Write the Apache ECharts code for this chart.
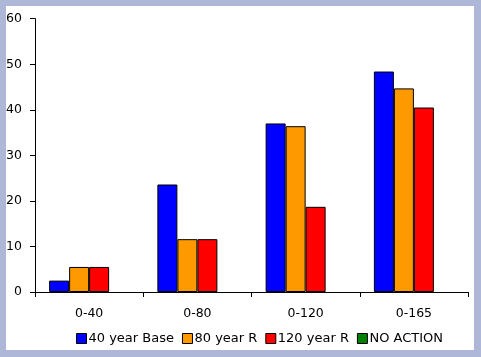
<!DOCTYPE html>
<html><head><meta charset="utf-8">
<script src="https://cdn.jsdelivr.net/npm/echarts@6/dist/echarts.min.js"></script>
<style>html,body{margin:0;padding:0;background:#AEB7D8;}#c{width:481px;height:357px;}</style>
</head><body><div id="c"></div>
<script>
var categories = ['0-40', '0-80', '0-120', '0-165'];
var base40 = [2.5, 23.6, 37.0, 48.4];
var r80 = [5.5, 11.6, 36.4, 44.7];
var r120 = [5.5, 11.6, 18.7, 40.5];
var noAction = [null, null, null, null];
var seriesNames = ['40 year Base', '80 year R', '120 year R', 'NO ACTION'];
var colors = ['#0000FF', '#FF9900', '#FF0000', '#008000'];
var yTicks = [0, 10, 20, 30, 40, 50, 60];

var chart = echarts.init(document.getElementById('c'), null, {renderer: 'canvas'});
var font = 'DejaVu Sans, sans-serif';
var datas = [base40, r80, r120, noAction];
chart.setOption({
  animation: false,
  backgroundColor: '#AEB7D8',
  graphic: [{type: 'rect', shape: {x: 6, y: 6, width: 468, height: 344}, style: {fill: '#FFFFFF'}, z: -10, silent: true}],
  grid: {left: 35, right: 13, top: 18.7, bottom: 65, containLabel: false},
  legend: {
    data: seriesNames, left: 71, top: 327, itemWidth: 10, itemHeight: 10, itemGap: 8,
    icon: 'rect',
    textStyle: {fontFamily: font, fontSize: 13, color: '#000', padding: [0,0,0,-3]},
    itemStyle: {borderColor: '#000', borderWidth: 1}
  },
  xAxis: {
    type: 'category', data: categories,
    axisLine: {lineStyle: {color: '#000', width: 1}},
    axisTick: {show: true, length: 5, lineStyle: {color: '#000'}},
    axisLabel: {fontFamily: font, fontSize: 12.5, color: '#000', margin: 15}
  },
  yAxis: {
    type: 'value', min: yTicks[0], max: yTicks[yTicks.length-1], interval: 10,
    axisLine: {show: true, lineStyle: {color: '#000', width: 1}},
    axisTick: {show: true, length: 5, lineStyle: {color: '#000'}},
    splitLine: {show: false},
    axisLabel: {fontFamily: font, fontSize: 12.5, color: '#000', margin: 13}
  },
  series: datas.map(function(d, i) {
    return {
      name: seriesNames[i], type: 'bar', data: d, barWidth: 20, barGap: '0%',
      itemStyle: {color: colors[i], borderColor: '#000', borderWidth: 1}
    };
  })
});
</script></body></html>
